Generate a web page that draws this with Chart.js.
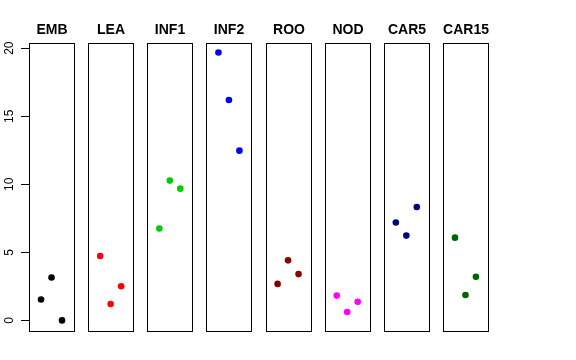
<!DOCTYPE html>
<html>
<head>
<meta charset="utf-8">
<script src="https://cdn.jsdelivr.net/npm/chart.js@4"></script>
<style>
  html, body { margin: 0; padding: 0; background: #fff; }
  #wrap { width: 576px; height: 360px; position: relative; }
</style>
</head>
<body>
<div id="wrap"><canvas id="stripChart"></canvas></div>
<script>
// Panel labels and colours
const groups = ['EMB', 'LEA', 'INF1', 'INF2', 'ROO', 'NOD', 'CAR5', 'CAR15'];
const colors = ['#000000', '#FF0000', '#00CD00', '#0000FF', '#8B0000', '#FF00FF', '#000080', '#006400'];

// Three replicate values per panel (left to right)
const embValues = [1.53, 3.15, 0.0];
const leaValues = [4.73, 1.2, 2.51];
const inf1Values = [6.75, 10.27, 9.68];
const inf2Values = [19.68, 16.19, 12.47];
const rooValues = [2.68, 4.41, 3.4];
const nodValues = [1.82, 0.62, 1.36];
const car5Values = [7.19, 6.23, 8.33];
const car15Values = [6.08, 1.87, 3.2];

const yTicks = [0, 5, 10, 15, 20];

const allValues = [embValues, leaValues, inf1Values, inf2Values, rooValues, nodValues, car5Values, car15Values];

// panel layout in x units (1 unit = gap between replicates)
const STEP = 5.64;
const PAD = 1.15;

const datasets = allValues.map((vals, i) => ({
  label: groups[i],
  data: vals.map((v, j) => ({ x: i * STEP + j + 1, y: v })),
  backgroundColor: colors[i],
  borderColor: colors[i],
  pointRadius: 3.3,
  pointBorderWidth: 0,
  pointHoverRadius: 3.3
}));

// Draws a box and a bold title for every panel
const panelPlugin = {
  id: 'panels',
  afterDatasetsDraw(chart) {
    const { ctx, chartArea, scales } = chart;
    ctx.save();
    groups.forEach((name, i) => {
      const left = Math.round(scales.x.getPixelForValue(i * STEP + 1 - PAD)) + 0.5;
      const right = Math.round(scales.x.getPixelForValue(i * STEP + 3 + PAD)) + 0.5;
      const top = Math.round(chartArea.top) + 0.5;
      const bottom = Math.round(chartArea.bottom) + 0.5;
      ctx.strokeStyle = '#000';
      ctx.lineWidth = 1;
      ctx.strokeRect(left, top, right - left, bottom - top);

      ctx.fillStyle = '#000';
      ctx.font = 'bold 14px "Liberation Sans", Arial, sans-serif';
      ctx.textAlign = 'center';
      ctx.textBaseline = 'alphabetic';
      ctx.fillText(name, (left + right) / 2, chartArea.top - 9);
    });
    ctx.restore();
  }
};

const ctx = document.getElementById('stripChart').getContext('2d');
new Chart(ctx, {
  type: 'scatter',
  data: { datasets },
  options: {
    responsive: true,
    maintainAspectRatio: false,
    animation: false,
    events: [],
    layout: {
      padding: { top: 43, bottom: 29, left: 0, right: 88 }
    },
    plugins: {
      legend: { display: false },
      tooltip: { enabled: false }
    },
    scales: {
      x: {
        type: 'linear',
        display: false,
        min: 1 - PAD,
        max: (groups.length - 1) * STEP + 3 + PAD
      },
      y: {
        type: 'linear',
        min: -0.78,
        max: 20.38,
        afterFit: (scale) => { scale.width = 29; },
        afterBuildTicks: (scale) => { scale.ticks = yTicks.map(v => ({ value: v })); },
        border: { display: false },
        grid: {
          drawOnChartArea: false,
          drawTicks: true,
          tickLength: 8,
          color: '#000'
        },
        ticks: {
          minRotation: 90,
          maxRotation: 90,
          crossAlign: 'center',
          padding: 5,
          color: '#000',
          font: { family: '"Liberation Sans", Arial, sans-serif', size: 12 }
        }
      }
    }
  },
  plugins: [panelPlugin]
});
</script>
</body>
</html>
